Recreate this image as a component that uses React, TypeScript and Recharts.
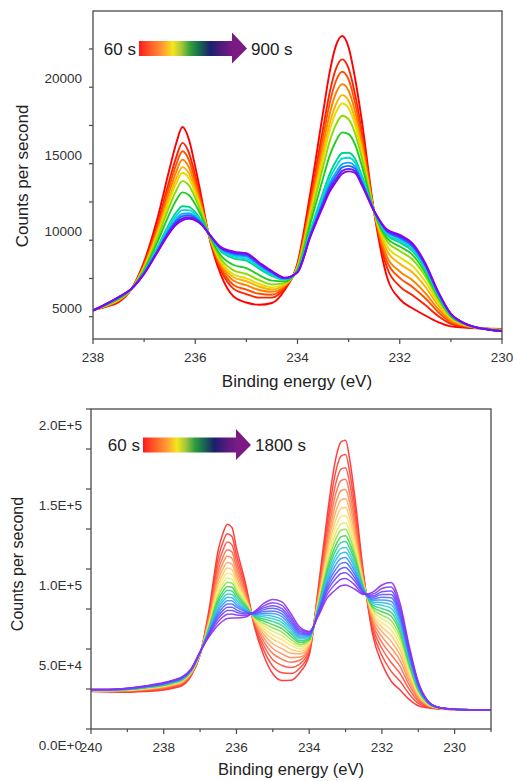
import React from 'react'
import { LineChart, Line, XAxis, YAxis } from 'recharts'

// Upper panel: spectra from 60 s (red) to 900 s (violet), counts per second
const TOP_ENERGY = [238, 237.75, 237.5, 237.25, 237, 236.75, 236.5, 236.375, 236.25, 236.125, 236, 235.875, 235.75, 235.5, 235.25, 235, 234.75, 234.5, 234.25, 234, 233.75, 233.5, 233.375, 233.25, 233.125, 233, 232.875, 232.75, 232.5, 232.25, 232, 231.75, 231.5, 231.25, 231, 230.75, 230.5, 230.25, 230]

const TOP_SPECTRA = [
  [5450, 5650, 5950, 6800, 8600, 11300, 14700, 16300, 17400, 16600, 14800, 12750, 10550, 7750, 6320, 5930, 5780, 5900, 6750, 8500, 13080, 18350, 20900, 22700, 23350, 22600, 20600, 18000, 11800, 7600, 6150, 5550, 5080, 4650, 4370, 4300, 4250, 4220, 4200],
  [5440, 5680, 6010, 6800, 8460, 10930, 13990, 15400, 16360, 15720, 14210, 12450, 10540, 8060, 6820, 6480, 6250, 6250, 6890, 8400, 12590, 17300, 19580, 21190, 21820, 21220, 19550, 17260, 11820, 8220, 6990, 6400, 5760, 5050, 4540, 4360, 4260, 4210, 4180],
  [5440, 5690, 6040, 6810, 8390, 10740, 13610, 14920, 15810, 15250, 13890, 12300, 10540, 8220, 7080, 6770, 6500, 6440, 6960, 8340, 12330, 16750, 18890, 20390, 21010, 20490, 18990, 16870, 11830, 8620, 7540, 6950, 6210, 5310, 4640, 4400, 4270, 4200, 4170],
  [5430, 5710, 6070, 6810, 8320, 10550, 13230, 14450, 15270, 14780, 13580, 12140, 10530, 8380, 7350, 7060, 6750, 6630, 7030, 8290, 12070, 16200, 18190, 19590, 20200, 19770, 18430, 16480, 11840, 8930, 7960, 7380, 6550, 5510, 4730, 4430, 4270, 4200, 4150],
  [5430, 5720, 6090, 6810, 8260, 10380, 12890, 14020, 14780, 14360, 13300, 12000, 10530, 8520, 7580, 7320, 6970, 6790, 7090, 8240, 11840, 15710, 17570, 18870, 19480, 19120, 17930, 16130, 11840, 9310, 8460, 7890, 6960, 5750, 4830, 4470, 4280, 4190, 4140],
  [5430, 5730, 6110, 6810, 8210, 10250, 12640, 13700, 14410, 14050, 13090, 11890, 10530, 8630, 7760, 7510, 7140, 6920, 7140, 8210, 11670, 15340, 17100, 18340, 18940, 18630, 17560, 15870, 11850, 9620, 8880, 8310, 7300, 5950, 4910, 4500, 4280, 4190, 4130],
  [5420, 5750, 6140, 6810, 8140, 10050, 12260, 13230, 13860, 13580, 12770, 11740, 10520, 8790, 8030, 7800, 7390, 7110, 7210, 8150, 11410, 14780, 16410, 17540, 18130, 17900, 17000, 15480, 11860, 9930, 9300, 8740, 7650, 6150, 4990, 4530, 4290, 4180, 4110],
  [5420, 5770, 6180, 6810, 8040, 9800, 11760, 12590, 13130, 12960, 12350, 11530, 10520, 9010, 8380, 8180, 7720, 7360, 7310, 8080, 11060, 14050, 15480, 16470, 17050, 16930, 16260, 14960, 11870, 10140, 9590, 9040, 7880, 6290, 5050, 4550, 4290, 4170, 4100],
  [5410, 5800, 6230, 6820, 7920, 9470, 11130, 11800, 12220, 12180, 11830, 11260, 10510, 9280, 8820, 8670, 8140, 7670, 7430, 7990, 10630, 13120, 14310, 15140, 15700, 15720, 15330, 14300, 11890, 10330, 9850, 9290, 8090, 6410, 5100, 4560, 4290, 4160, 4080],
  [5410, 5800, 6240, 6820, 7890, 9390, 10960, 11580, 11970, 11970, 11690, 11190, 10510, 9350, 8940, 8800, 8250, 7750, 7460, 7970, 10520, 12880, 14000, 14780, 15340, 15390, 15080, 14130, 11890, 10420, 9970, 9420, 8190, 6470, 5130, 4570, 4300, 4160, 4070],
  [5400, 5810, 6260, 6820, 7860, 9300, 10790, 11370, 11730, 11760, 11550, 11120, 10500, 9420, 9050, 8930, 8360, 7830, 7490, 7940, 10400, 12630, 13690, 14420, 14980, 15070, 14830, 13950, 11890, 10510, 10100, 9550, 8300, 6530, 5150, 4580, 4300, 4160, 4060],
  [5400, 5810, 6270, 6820, 7840, 9250, 10690, 11240, 11570, 11630, 11460, 11080, 10500, 9470, 9130, 9010, 8430, 7890, 7510, 7930, 10330, 12480, 13500, 14200, 14760, 14860, 14680, 13850, 11900, 10580, 10180, 9630, 8360, 6570, 5170, 4590, 4300, 4150, 4060],
  [5400, 5820, 6270, 6820, 7820, 9190, 10580, 11110, 11420, 11500, 11370, 11040, 10500, 9510, 9200, 9090, 8500, 7940, 7530, 7910, 10260, 12320, 13310, 13980, 14530, 14660, 14520, 13740, 11900, 10640, 10270, 9720, 8430, 6610, 5180, 4590, 4300, 4150, 4050],
  [5400, 5820, 6280, 6820, 7800, 9150, 10500, 11000, 11300, 11400, 11300, 11000, 10500, 9550, 9260, 9150, 8550, 7980, 7550, 7900, 10200, 12200, 13150, 13800, 14350, 14500, 14400, 13650, 11900, 10700, 10350, 9800, 8500, 6650, 5200, 4600, 4300, 4150, 4050],
]

const TOP_COLORS = ['#ff0000', '#ff2200', '#ff5000', '#ff8000', '#ffb000', '#e6dc00', '#88dd00', '#22cc22', '#00d488', '#00dcdc', '#1aa8ff', '#2266ff', '#5a22ee', '#8a00f0']
const TOP_X_TICKS = [238, 237, 236, 235, 234, 233, 232, 231, 230]
const TOP_Y_TICKS = [5000, 7500, 10000, 12500, 15000, 17500, 20000, 22500]

// Lower panel: spectra from 60 s (red) to 1800 s (violet), in thousands of counts per second
const BOTTOM_ENERGY = [240, 239.5, 239, 238.5, 238, 237.75, 237.5, 237.25, 237, 236.75, 236.5, 236.375, 236.25, 236.125, 236, 235.75, 235.5, 235.25, 235, 234.75, 234.5, 234.25, 234, 233.75, 233.5, 233.375, 233.25, 233.125, 233, 232.875, 232.75, 232.5, 232.25, 232, 231.75, 231.5, 231.25, 231, 230.75, 230.5, 230, 229.5, 229]

const BOTTOM_SPECTRA = [
  [23.5, 23.2, 23.0, 23.5, 24.4, 25.5, 27.0, 33.0, 46.3, 75.0, 112.0, 122.0, 128.0, 126.0, 113.0, 91.0, 63.5, 46.0, 34.5, 30.3, 30.5, 35.5, 46.0, 88.0, 134.0, 155.0, 171.0, 179.5, 180.5, 167.0, 146.0, 96.0, 58.5, 41.0, 30.0, 24.4, 18.5, 14.5, 13.2, 12.6, 12.2, 12.0, 11.9],
  [23.6, 23.4, 23.3, 23.9, 24.9, 26.0, 27.6, 33.5, 46.5, 73.3, 107.3, 116.6, 122.1, 120.3, 108.6, 88.9, 64.5, 49.3, 39.2, 35.2, 34.7, 38.3, 47.5, 86.3, 128.8, 148.0, 162.7, 170.5, 171.5, 159.2, 140.2, 94.8, 61.2, 45.9, 36.2, 29.8, 21.9, 16.0, 13.7, 12.7, 12.2, 12.0, 11.9],
  [23.8, 23.5, 23.5, 24.2, 25.3, 26.5, 28.0, 33.9, 46.7, 71.7, 103.1, 111.6, 116.8, 115.2, 104.7, 87.0, 65.4, 52.2, 43.3, 39.7, 38.4, 40.8, 48.9, 84.7, 124.1, 141.7, 155.1, 162.4, 163.3, 152.2, 134.9, 93.7, 63.6, 50.3, 41.7, 34.7, 24.9, 17.4, 14.1, 12.9, 12.2, 12.0, 11.9],
  [23.9, 23.6, 23.7, 24.5, 25.6, 26.9, 28.5, 34.2, 46.8, 70.3, 99.3, 107.3, 112.1, 110.7, 101.2, 85.3, 66.2, 54.8, 47.1, 43.6, 41.7, 43.1, 50.1, 83.3, 120.0, 136.1, 148.5, 155.2, 156.1, 145.9, 130.2, 92.8, 65.8, 54.2, 46.6, 39.0, 27.6, 18.6, 14.5, 13.0, 12.2, 12.0, 11.9],
  [23.9, 23.7, 23.9, 24.7, 26.0, 27.2, 28.9, 34.5, 47.0, 69.1, 96.0, 103.5, 107.9, 106.7, 98.1, 83.9, 66.9, 57.1, 50.3, 47.0, 44.6, 45.0, 51.1, 82.1, 116.3, 131.2, 142.6, 148.9, 149.7, 140.5, 126.1, 91.9, 67.7, 57.7, 50.9, 42.8, 29.9, 19.6, 14.8, 13.1, 12.2, 12.0, 11.9],
  [24.0, 23.9, 24.0, 24.9, 26.3, 27.5, 29.2, 34.8, 47.1, 68.0, 93.0, 99.9, 104.1, 103.0, 95.3, 82.5, 67.6, 59.2, 53.3, 50.2, 47.3, 46.8, 52.1, 80.9, 112.9, 126.7, 137.2, 143.1, 143.9, 135.4, 122.3, 91.1, 69.4, 60.9, 54.9, 46.3, 32.1, 20.6, 15.1, 13.2, 12.2, 12.0, 11.9],
  [24.1, 23.9, 24.2, 25.1, 26.5, 27.8, 29.6, 35.1, 47.2, 67.0, 90.1, 96.7, 100.6, 99.6, 92.7, 81.2, 68.2, 61.1, 56.1, 53.2, 49.8, 48.5, 53.0, 79.9, 109.8, 122.5, 132.2, 137.7, 138.4, 130.7, 118.8, 90.4, 71.1, 63.8, 58.6, 49.6, 34.1, 21.5, 15.4, 13.3, 12.2, 12.0, 11.9],
  [24.2, 24.0, 24.3, 25.3, 26.8, 28.1, 29.9, 35.3, 47.3, 66.0, 87.6, 93.7, 97.3, 96.5, 90.3, 80.1, 68.7, 62.9, 58.7, 55.9, 52.1, 50.1, 53.8, 78.9, 107.0, 118.6, 127.6, 132.7, 133.4, 126.4, 115.6, 89.8, 72.5, 66.5, 62.0, 52.5, 35.9, 22.3, 15.7, 13.3, 12.3, 12.0, 11.9],
  [24.2, 24.1, 24.4, 25.5, 27.0, 28.4, 30.1, 35.6, 47.4, 65.1, 85.2, 90.9, 94.4, 93.7, 88.1, 79.0, 69.2, 64.5, 61.0, 58.3, 54.2, 51.5, 54.6, 78.0, 104.4, 115.1, 123.4, 128.2, 128.9, 122.5, 112.7, 89.2, 73.9, 68.9, 65.1, 55.2, 37.6, 23.1, 15.9, 13.4, 12.3, 12.0, 11.9],
  [24.3, 24.2, 24.5, 25.7, 27.2, 28.6, 30.4, 35.8, 47.5, 64.4, 83.1, 88.5, 91.7, 91.1, 86.1, 78.1, 69.7, 66.0, 63.1, 60.6, 56.0, 52.7, 55.2, 77.2, 102.0, 112.0, 119.7, 124.2, 124.8, 119.0, 110.0, 88.6, 75.1, 71.1, 67.8, 57.7, 39.1, 23.7, 16.2, 13.5, 12.3, 12.0, 11.9],
  [24.4, 24.3, 24.7, 25.8, 27.4, 28.8, 30.6, 36.0, 47.6, 63.6, 81.0, 86.0, 89.1, 88.6, 84.2, 77.1, 70.1, 67.5, 65.2, 62.8, 57.9, 54.0, 55.9, 76.5, 99.7, 108.8, 115.9, 120.1, 120.8, 115.5, 107.4, 88.1, 76.3, 73.3, 70.6, 60.1, 40.6, 24.4, 16.4, 13.5, 12.3, 12.0, 11.9],
  [24.4, 24.3, 24.8, 26.0, 27.6, 29.0, 30.9, 36.2, 47.7, 62.9, 79.1, 83.9, 86.7, 86.3, 82.4, 76.3, 70.5, 68.8, 67.1, 64.7, 59.6, 55.1, 56.5, 75.8, 97.6, 106.0, 112.6, 116.5, 117.2, 112.4, 105.1, 87.6, 77.4, 75.3, 73.1, 62.3, 42.0, 25.0, 16.6, 13.6, 12.3, 12.0, 11.9],
  [24.5, 24.4, 24.9, 26.1, 27.8, 29.2, 31.1, 36.3, 47.8, 62.2, 77.2, 81.7, 84.3, 84.0, 80.7, 75.5, 70.9, 70.1, 68.9, 66.7, 61.2, 56.2, 57.1, 75.1, 95.5, 103.2, 109.2, 112.9, 113.5, 109.3, 102.7, 87.1, 78.5, 77.3, 75.5, 64.4, 43.3, 25.6, 16.8, 13.6, 12.3, 12.0, 11.9],
  [24.5, 24.4, 24.9, 26.2, 28.0, 29.4, 31.3, 36.5, 47.9, 61.6, 75.6, 79.8, 82.3, 82.1, 79.1, 74.7, 71.3, 71.2, 70.5, 68.4, 62.7, 57.2, 57.6, 74.4, 93.7, 100.8, 106.3, 109.8, 110.4, 106.6, 100.7, 86.7, 79.4, 79.0, 77.7, 66.3, 44.5, 26.1, 16.9, 13.7, 12.3, 12.0, 11.9],
  [24.6, 24.5, 25.0, 26.3, 28.1, 29.6, 31.5, 36.6, 47.9, 61.0, 73.9, 77.9, 80.2, 80.1, 77.6, 74.0, 71.6, 72.3, 72.2, 70.2, 64.1, 58.2, 58.2, 73.8, 91.9, 98.3, 103.4, 106.6, 107.2, 103.8, 98.6, 86.3, 80.4, 80.7, 79.8, 68.2, 45.6, 26.7, 17.1, 13.7, 12.3, 12.0, 11.9],
  [24.6, 24.6, 25.1, 26.5, 28.3, 29.7, 31.6, 36.8, 48.0, 60.4, 72.3, 76.0, 78.1, 78.1, 76.1, 73.3, 72.0, 73.5, 73.8, 71.9, 65.6, 59.2, 58.7, 73.2, 90.1, 95.9, 100.4, 103.5, 104.0, 101.1, 96.6, 85.9, 81.3, 82.4, 82.0, 70.1, 46.8, 27.2, 17.3, 13.8, 12.3, 12.0, 11.9],
  [24.6, 24.6, 25.2, 26.6, 28.5, 29.9, 31.8, 37.0, 48.1, 59.8, 70.6, 74.0, 76.1, 76.1, 74.5, 72.5, 72.3, 74.6, 75.4, 73.6, 67.0, 60.1, 59.2, 72.6, 88.2, 93.4, 97.5, 100.3, 100.9, 98.4, 94.5, 85.4, 82.3, 84.1, 84.1, 72.0, 48.0, 27.7, 17.4, 13.8, 12.3, 12.0, 11.9],
  [24.7, 24.7, 25.3, 26.7, 28.6, 30.1, 32.0, 37.1, 48.1, 59.2, 69.0, 72.1, 74.0, 74.1, 73.0, 71.8, 72.7, 75.7, 77.1, 75.3, 68.5, 61.1, 59.7, 72.0, 86.4, 91.0, 94.6, 97.2, 97.7, 95.6, 92.5, 85.0, 83.2, 85.8, 86.3, 73.9, 49.2, 28.2, 17.6, 13.9, 12.3, 12.0, 11.9],
  [24.7, 24.7, 25.4, 26.8, 28.8, 30.3, 32.3, 37.3, 48.2, 58.5, 67.1, 70.0, 71.7, 71.9, 71.3, 70.9, 73.1, 77.0, 78.9, 77.3, 70.1, 62.2, 60.3, 71.3, 84.3, 88.2, 91.3, 93.6, 94.1, 92.5, 90.1, 84.5, 84.3, 87.8, 88.7, 76.1, 50.5, 28.8, 17.8, 13.9, 12.3, 12.0, 11.9],
  [24.8, 24.8, 25.5, 27.0, 29.0, 30.5, 32.5, 37.5, 48.3, 57.7, 65.0, 67.5, 69.0, 69.3, 69.3, 70.0, 73.5, 78.5, 81.0, 79.5, 72.0, 63.5, 61.0, 70.5, 82.0, 85.0, 87.5, 89.5, 90.0, 89.0, 87.5, 84.0, 85.5, 90.0, 91.5, 78.5, 52.0, 29.5, 18.0, 14.0, 12.3, 12.0, 11.9],
]

const BOTTOM_COLORS = ['#ff2a2a', '#ff3b30', '#ff4d3a', '#ff6a45', '#ff8a50', '#ffa95a', '#ffc864', '#ffe36a', '#d8f060', '#8ee050', '#3fd24a', '#2fd08a', '#2cd0c8', '#2ab8f0', '#3a90ff', '#4a6cff', '#5a52ff', '#6e44ff', '#7f3af5', '#8a30f0']
const BOTTOM_X_TICKS = [240, 239, 238, 237, 236, 235, 234, 233, 232, 231, 230, 229]
const BOTTOM_Y_TICKS = [0, 25, 50, 75, 100, 125, 150, 175, 200]

const FONT = '"Liberation Sans", Arial, sans-serif'
const AXIS = '#4a4a4a'
const LABEL = '#333'

function rows(energy: number[], spectra: number[][]) {
  return energy.map((e, j) => {
    const r: any = { e }
    spectra.forEach((s, i) => (r['s' + i] = s[j]))
    return r
  })
}

const topData = rows(TOP_ENERGY, TOP_SPECTRA)
const bottomData = rows(BOTTOM_ENERGY, BOTTOM_SPECTRA)

const XTick = (p: any) => {
  const v = p.payload.value
  const major = v % 2 === 0
  return (
    <g>
      <line x1={p.x} x2={p.x} y1={p.y} y2={p.y + (major ? 5 : 3)} stroke={AXIS} strokeWidth={1.2} />
      {major && (
        <text x={p.x} y={p.y + 23} textAnchor="middle" fontSize={13.5} fill={LABEL}>{v}</text>
      )}
    </g>
  )
}

const TopYTick = (p: any) => {
  const v = p.payload.value
  return (
    <g>
      <line x1={p.x - 4} x2={p.x} y1={p.y} y2={p.y} stroke={AXIS} strokeWidth={1.2} />
      {v % 5000 === 0 && (
        <text x={p.x - 11} y={p.y - 4} textAnchor="end" fontSize={13.5} fill={LABEL}>{v}</text>
      )}
    </g>
  )
}

const BottomYTick = (p: any) => {
  const v = p.payload.value
  return (
    <g>
      <line x1={p.x - 5} x2={p.x} y1={p.y} y2={p.y} stroke={AXIS} strokeWidth={1.2} />
      {v % 50 === 0 && (
        <text x={p.x - 9} y={p.y + 21} textAnchor="end" fontSize={13.5} fill={LABEL}>
          {(v * 1000).toExponential(1).toUpperCase()}
        </text>
      )}
    </g>
  )
}

function TimeArrow({ x, y, from, to }: { x: number; y: number; from: string; to: string }) {
  // bar 94 px long, arrow head 15 px
  return (
    <g>
      <text x={x - 3} y={y + 6} textAnchor="end" fontSize={17} fill="#222">{from}</text>
      <rect x={x} y={y - 7.5} width={94} height={15} fill="url(#rainbow)" />
      <polygon points={`${x + 93},${y - 16} ${x + 108},${y} ${x + 93},${y + 15}`} fill="#7c1a84" />
      <text x={x + 112} y={y + 6} fontSize={17} fill="#222">{to}</text>
    </g>
  )
}

export default function App() {
  return (
    <div style={{ position: 'absolute', left: 0, top: 0, width: 513, height: 781, background: '#fff', fontFamily: FONT }}>
      <div style={{ position: 'absolute', left: 0, top: 0 }}>
        <LineChart width={513} height={390} data={topData} margin={{ top: 11, right: 11, bottom: 0, left: 0 }}>
          <XAxis dataKey="e" type="number" domain={[230, 238]} reversed ticks={TOP_X_TICKS} interval={0}
            height={51} axisLine={false} tickLine={false} tickSize={0} tickMargin={0} tick={XTick} allowDataOverflow />
          <YAxis type="number" domain={[3545, 24980]} ticks={TOP_Y_TICKS} interval={0} width={93}
            axisLine={false} tickLine={false} tickSize={0} tickMargin={0} tick={TopYTick} allowDataOverflow />
          {TOP_SPECTRA.map((_, i) => (
            <Line key={i} dataKey={'s' + i} type="monotone" stroke={TOP_COLORS[i]} strokeWidth={1.9}
              dot={false} isAnimationActive={false} />
          ))}
        </LineChart>
      </div>
      <div style={{ position: 'absolute', left: 0, top: 390 }}>
        <LineChart width={513} height={391} data={bottomData} margin={{ top: 19, right: 22, bottom: 0, left: 0 }}>
          <XAxis dataKey="e" type="number" domain={[229, 240]} reversed ticks={BOTTOM_X_TICKS} interval={0}
            height={52} axisLine={false} tickLine={false} tickSize={0} tickMargin={0} tick={XTick} allowDataOverflow />
          <YAxis type="number" domain={[0, 200]} ticks={BOTTOM_Y_TICKS} interval={0} width={91}
            axisLine={false} tickLine={false} tickSize={0} tickMargin={0} tick={BottomYTick} allowDataOverflow />
          {BOTTOM_SPECTRA.map((_, i) => (
            <Line key={i} dataKey={'s' + i} type="monotone" stroke={BOTTOM_COLORS[i]} strokeWidth={1.5}
              strokeOpacity={0.9} dot={false} isAnimationActive={false} />
          ))}
        </LineChart>
      </div>
      <svg width={513} height={781} style={{ position: 'absolute', left: 0, top: 0, pointerEvents: 'none' }}>
        <defs>
          <linearGradient id="rainbow" x1="0" x2="1" y1="0" y2="0">
            <stop offset="0" stopColor="#ff1a1a" />
            <stop offset="0.12" stopColor="#ff5a2a" />
            <stop offset="0.25" stopColor="#ff9a33" />
            <stop offset="0.36" stopColor="#f5e61a" />
            <stop offset="0.45" stopColor="#a8c83c" />
            <stop offset="0.55" stopColor="#2e9e3e" />
            <stop offset="0.64" stopColor="#1a6b4f" />
            <stop offset="0.76" stopColor="#1c1f6e" />
            <stop offset="0.9" stopColor="#5a1a7e" />
            <stop offset="1" stopColor="#7c1a84" />
          </linearGradient>
        </defs>
        <rect x={93} y={11} width={409} height={328} fill="none" stroke={AXIS} strokeWidth={1.3} />
        <rect x={91} y={409} width={400} height={320} fill="none" stroke={AXIS} strokeWidth={1.3} />
        <TimeArrow x={139} y={48.5} from="60 s" to="900 s" />
        <TimeArrow x={143} y={445} from="60 s" to="1800 s" />
        <text x={297} y={387} textAnchor="middle" fontSize={17} fill="#222">Binding energy (eV)</text>
        <text x={28} y={176} textAnchor="middle" fontSize={17} fill="#222" transform="rotate(-90 28 176)">Counts per second</text>
        <text x={291} y={775} textAnchor="middle" fontSize={16.5} fill="#222">Binding energy (eV)</text>
        <text x={23} y={564} textAnchor="middle" fontSize={16} fill="#222" transform="rotate(-90 23 564)">Counts per second</text>
      </svg>
    </div>
  )
}
